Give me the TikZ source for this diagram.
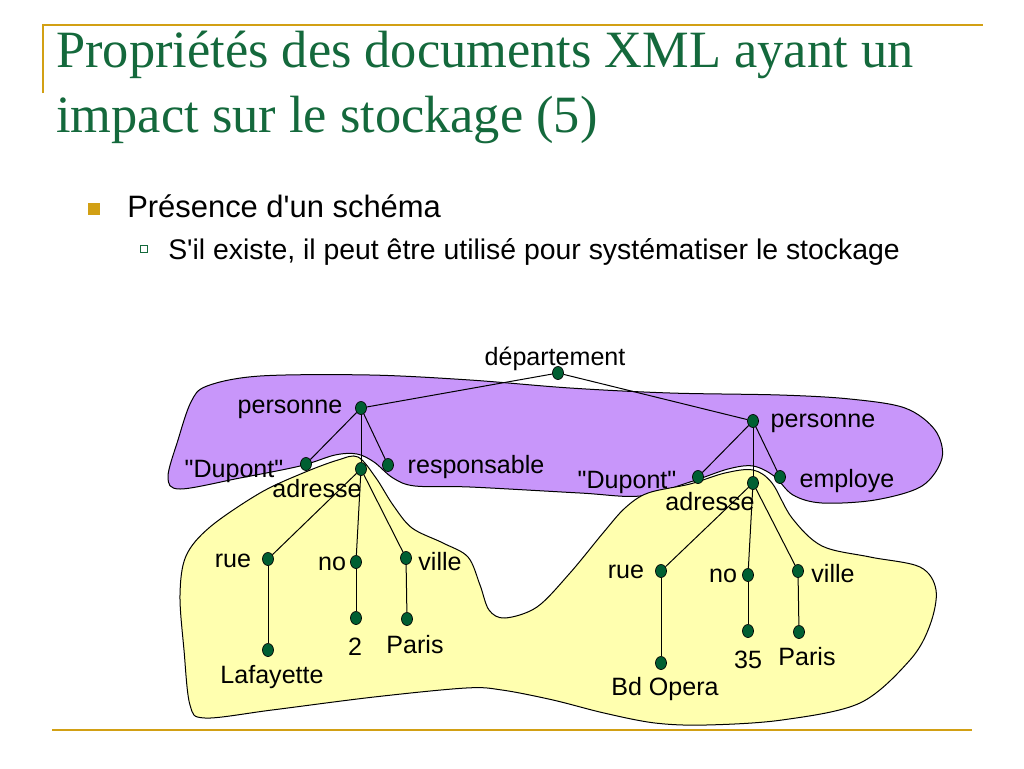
\documentclass[tikz,border=0pt]{standalone}
\usepackage{fontspec}
\setmainfont{Liberation Sans}
\newfontfamily\titlefont{Liberation Serif}
\usetikzlibrary{shapes.geometric,backgrounds}
\definecolor{titlegreen}{RGB}{20,105,60}
\definecolor{gold}{RGB}{210,160,20}
\definecolor{lilac}{RGB}{200,150,250}
\definecolor{paleyellow}{RGB}{255,255,175}
\definecolor{dotgreen}{RGB}{0,95,50}
\begin{document}
\begin{tikzpicture}[x=0.75pt,y=-0.75pt,
  dot/.style={ellipse,draw=black,line width=0.5pt,fill=dotgreen,minimum width=8.3pt,minimum height=9.8pt,inner sep=0pt},
  lbl/.style={anchor=base,inner sep=0pt,font=\fontsize{18.8}{22}\selectfont},
  edge/.style={line width=0.75pt},
  blob/.style={draw=black,line width=0.75pt},
  rule/.style={draw=gold,line width=1.5pt},
  title/.style={anchor=base west,inner sep=0pt,text=titlegreen,font=\titlefont\fontsize{39.3}{47}\selectfont},
  bulletA/.style={anchor=base west,inner sep=0pt,font=\fontsize{23.2}{28}\selectfont},
  bulletB/.style={anchor=base west,inner sep=0pt,font=\fontsize{21.3}{26}\selectfont}]
\useasboundingbox (0,0) rectangle (1024,768);

% frame rules
\draw[rule] (43,93) -- (43,25) -- (983,25);
\draw[rule] (52,730) -- (972,730);

% title
\node[title] (t1) at (56,67) {Propriétés des documents XML ayant un};
\node[title] (t2) at (56,132) {impact sur le stockage (5)};

% bullets
\node[fill=gold,minimum size=9pt,inner sep=0pt] (b1) at (94,209) {};
\node[bulletA] (b1t) at (127,217) {Présence d\textquotesingle un schéma};
\node[draw=titlegreen,fill=white,line width=0.6pt,minimum size=5.3pt,inner sep=0pt] (b2) at (144,249) {};
\node[bulletB] (b2t) at (168,259) {S\textquotesingle il existe, il peut être utilisé pour systématiser le stockage};

% tree dots
\node[dot] (dep) at (558,373) {};
\node[dot] (persL) at (361,408) {};
\node[dot] (dupL) at (306,464) {};
\node[dot] (resp) at (388,465) {};
\node[dot] (adrL) at (361,469) {};
\node[dot] (rueL) at (268,559) {};
\node[dot] (noL) at (356,562) {};
\node[dot] (villeL) at (406,558) {};
\node[dot] (laf) at (268,650) {};
\node[dot] (n2) at (356,618) {};
\node[dot] (parisL) at (407,619) {};
\node[dot] (persR) at (753,421) {};
\node[dot] (dupR) at (698,477) {};
\node[dot] (emp) at (780,477) {};
\node[dot] (adrR) at (753,483) {};
\node[dot] (rueR) at (661,571) {};
\node[dot] (noR) at (748,575) {};
\node[dot] (villeR) at (798,571) {};
\node[dot] (bd) at (661,663) {};
\node[dot] (n35) at (748,631) {};
\node[dot] (parisR) at (799,632) {};

% labels
\node[lbl] (l-dep) at (555,365) {département};
\node[lbl] (l-persL) at (290,413) {personne};
\node[lbl] (l-dupL) at (234,477) {\textquotedbl Dupont\textquotedbl};
\node[lbl] (l-resp) at (476,473) {responsable};
\node[lbl] (l-adrL) at (317,497) {adresse};
\node[lbl] (l-rueL) at (233,567) {rue};
\node[lbl] (l-noL) at (332,570) {no};
\node[lbl] (l-villeL) at (440,570) {ville};
\node[lbl] (l-n2) at (355,655) {2};
\node[lbl] (l-parisL) at (415,653) {Paris};
\node[lbl] (l-laf) at (272,683) {Lafayette};
\node[lbl] (l-persR) at (823,427) {personne};
\node[lbl] (l-dupR) at (627,488) {\textquotedbl Dupont\textquotedbl};
\node[lbl] (l-emp) at (847,487) {employe};
\node[lbl] (l-adrR) at (710,510) {adresse};
\node[lbl] (l-rueR) at (626,578) {rue};
\node[lbl] (l-noR) at (723,582) {no};
\node[lbl] (l-villeR) at (833,582) {ville};
\node[lbl] (l-bd) at (665,695) {Bd Opera};
\node[lbl] (l-n35) at (748,668) {35};
\node[lbl] (l-parisR) at (807,665) {Paris};

\begin{scope}[on background layer]
  \fill[white] (0,0) rectangle (1024,768);
  % purple blob
  \draw[blob,fill=lilac] plot[smooth cycle,tension=0.55] coordinates {
    (207,386) (260,376) (370,375) (470,380) (570,388) (670,393) (780,395)
    (850,399) (905,408) (935,430) (942,458) (922,486) (875,500) (822,503)
    (793,495) (774,476) (753,466) (728,469) (690,482) (640,496) (580,493)
    (470,487) (415,486) (393,478) (374,462) (357,454) (335,455) (300,466)
    (240,478) (180,489) (168,477) (178,440) (191,402)};
  % yellow blob
  \draw[blob,fill=paleyellow] plot[smooth cycle,tension=0.55] coordinates {
    (358,457) (376,478) (393,505) (412,528) (443,543) (468,557) (480,585)
    (489,610) (505,618) (537,607) (570,573) (603,533) (625,508) (648,493)
    (690,484) (725,473) (753,470) (772,483) (792,518) (822,546) (870,557)
    (920,567) (936,590) (930,625) (910,660) (860,703) (782,720) (706,725)
    (655,723) (604,713) (553,700) (502,690) (466,688) (374,697) (272,710)
    (205,718) (190,705) (184,650) (180,595) (186,556) (210,527) (260,493)
    (303,473) (338,460)};
  % edges
  \draw[edge] (dep) -- (persL);
  \draw[edge] (dep) -- (persR);
  \draw[edge] (persL) -- (dupL);
  \draw[edge] (persL) -- (adrL);
  \draw[edge] (persL) -- (resp);
  \draw[edge] (adrL) -- (rueL);
  \draw[edge] (adrL) -- (noL);
  \draw[edge] (adrL) -- (villeL);
  \draw[edge] (rueL) -- (laf);
  \draw[edge] (noL) -- (n2);
  \draw[edge] (villeL) -- (parisL);
  \draw[edge] (persR) -- (dupR);
  \draw[edge] (persR) -- (adrR);
  \draw[edge] (persR) -- (emp);
  \draw[edge] (adrR) -- (rueR);
  \draw[edge] (adrR) -- (noR);
  \draw[edge] (adrR) -- (villeR);
  \draw[edge] (rueR) -- (bd);
  \draw[edge] (noR) -- (n35);
  \draw[edge] (villeR) -- (parisR);
\end{scope}
\end{tikzpicture}
\end{document}
